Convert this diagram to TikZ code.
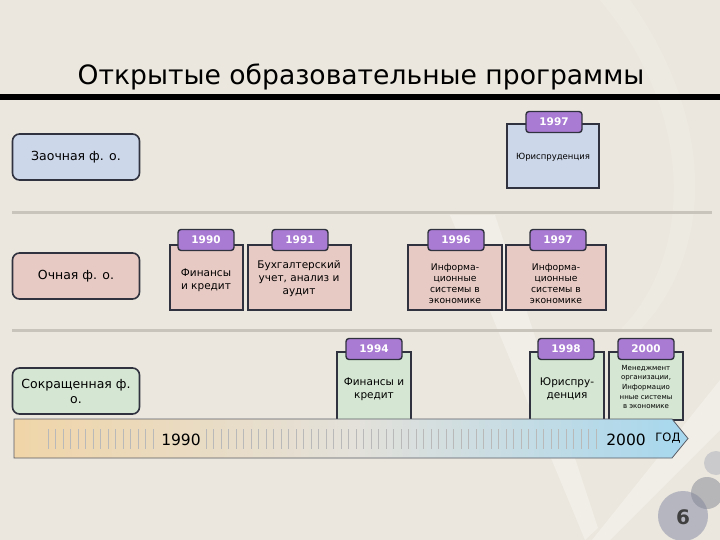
\documentclass[tikz,border=0pt]{standalone}
\usepackage{fontspec}
\setmainfont{DejaVu Sans}
\usepackage{tikz}
\usetikzlibrary{shapes,arrows}
\usetikzlibrary{positioning}
\usetikzlibrary{calc}
\definecolor{bg}{HTML}{EBE7DE}
\definecolor{edge}{HTML}{30323F}
\definecolor{blueb}{HTML}{CDD7EA}
\definecolor{pinkb}{HTML}{E8CAC4}
\definecolor{greenb}{HTML}{D5E7D2}
\definecolor{tabv}{HTML}{A97BD3}
\definecolor{sep}{HTML}{C8C4BB}
\definecolor{tlorange}{HTML}{F0D5A8}
\definecolor{tlmid}{HTML}{E4E1DA}
\definecolor{tlblue}{HTML}{A6D7EE}
\definecolor{dot}{HTML}{A3A6B6}

\begin{document}
\begin{tikzpicture}[x=1pt, y=-1pt,
	form/.style={draw=edge, line width=1.6pt, rounded corners=7pt,
		minimum width=127pt, minimum height=46pt, align=center,
		inner sep=2pt, font=\fontsize{12.5}{15}\selectfont},
	prog/.style={draw=edge, line width=1.6pt, rectangle,
		minimum height=65pt, inner sep=0pt},
	txt/.style={align=center, inner sep=0pt, font=\fontsize{10.5}{13}\selectfont},
	yr/.style={draw=edge, line width=1.4pt, fill=tabv, rounded corners=3pt,
		minimum width=56pt, minimum height=21pt, inner sep=0pt,
		text=white, font=\bfseries\fontsize{10.5}{12}\selectfont}]
	\useasboundingbox (0,0) rectangle (720,540);
	\fill [bg] (0,0) rectangle (720,540);
	%% background
	\fill [white, opacity=0.3] (450,215) -- (495,215) -- (598,528) -- (585,540) -- cycle;
	\fill [white, opacity=0.3] (720,380) -- (720,430) -- (610,540) -- (592,540) -- cycle;
	\fill [white, opacity=0.15] (600,0) .. controls (700,120) and (690,260) .. (620,330)
		-- (640,330) .. controls (715,250) and (715,120) .. (630,0) -- cycle;
	\fill [dot, opacity=0.75] (683,516) circle (25);
	\fill [dot!80!black, opacity=0.5] (707,493) circle (16);
	\fill [dot, opacity=0.45] (716,463) circle (12);
	%% Title
	\node at (361,77) (title) {\fontsize{26.6}{30}\selectfont Открытые образовательные программы};
	\fill [black] (0,94.5) rectangle (720,100);
	%% Rows
	\draw [sep, line width=3pt] (12,213) -- (712,213);
	\draw [sep, line width=3pt] (12,330) -- (712,330);
	%% Forms
	\node [form, fill=blueb] at (76,157) (zaoch) {Заочная ф. о.};
	\node [form, fill=pinkb] at (76,276) (och) {Очная ф. о.};
	\node [form, fill=greenb] at (76,391) (sokr) {Сокращенная ф.\\о.};
	%% Programs: zaoch
	\node [prog, fill=blueb, minimum width=92pt, minimum height=64pt] at (553,156) (jur1) {};
	\node [txt, font=\fontsize{8.5}{10}\selectfont] at (553,157) (tjur1) {Юриспруденция};
	\node [yr] at (554,122) (y1997a) {1997};
	%% Programs: och
	\node [prog, fill=pinkb, minimum width=73pt] at (206.5,277.5) (fin1) {};
	\node [txt] at (206,280) (tfin1) {Финансы\\и кредит};
	\node [yr] at (206,240) (y1990) {1990};
	\node [prog, fill=pinkb, minimum width=103pt] at (299.5,277.5) (buh) {};
	\node [txt] at (299,279) (tbuh) {Бухгалтерский\\учет, анализ и\\аудит};
	\node [yr] at (300,240) (y1991) {1991};
	\node [prog, fill=pinkb, minimum width=94pt] at (455,277.5) (inf1) {};
	\node [txt, font=\fontsize{9.2}{11}\selectfont] at (455,284) (tinf1) {Информа-\\ционные\\системы в\\экономике};
	\node [yr] at (456,240) (y1996) {1996};
	\node [prog, fill=pinkb, minimum width=100pt] at (556,277.5) (inf2) {};
	\node [txt, font=\fontsize{9.2}{11}\selectfont] at (556,284) (tinf2) {Информа-\\ционные\\системы в\\экономике};
	\node [yr] at (558,240) (y1997b) {1997};
	%% Programs: sokr
	\node [prog, fill=greenb, minimum width=74pt, minimum height=68pt] at (374,386) (fin2) {};
	\node [txt] at (374,389) (tfin2) {Финансы и\\кредит};
	\node [yr] at (374,349) (y1994) {1994};
	\node [prog, fill=greenb, minimum width=74pt, minimum height=68pt] at (567,386) (jur2) {};
	\node [txt] at (567,389) (tjur2) {Юриспру-\\денция};
	\node [yr] at (566,349) (y1998) {1998};
	\node [prog, fill=greenb, minimum width=74pt, minimum height=68pt] at (646,386) (man) {};
	\node [txt, font=\fontsize{7}{9.6}\selectfont] at (646,387) (tman) {Менеджмент\\организации,\\Информацио\\нные системы\\в экономике};
	\node [yr] at (646,349) (y2000) {2000};
	%% Time line
	\shade [left color=tlorange, right color=tlblue, middle color=tlmid, draw=edge!80, line width=0.8pt]
		(14,419) -- (672,419) -- (688,438.5) -- (672,458) -- (14,458) -- cycle;
	\foreach \t in {48,55.5,...,156}
		\draw [gray!55, line width=0.5pt] (\t,429) -- (\t,449);
	\foreach \t in {206,213.5,...,603}
		\draw [gray!55, line width=0.5pt] (\t,429) -- (\t,449);
	\node [font=\fontsize{15.5}{18}\selectfont] at (181,440) (t1990) {1990};
	\node [font=\fontsize{15.5}{18}\selectfont] at (626,440) (t2000) {2000};
	\node [font=\fontsize{11.5}{14}\selectfont] at (668,438) (tgod) {ГОД};
	%% Page number
	\node [font=\bfseries\fontsize{20}{22}\selectfont, text=black!75] at (683,517) (page) {6};
\end{tikzpicture}
\end{document}
